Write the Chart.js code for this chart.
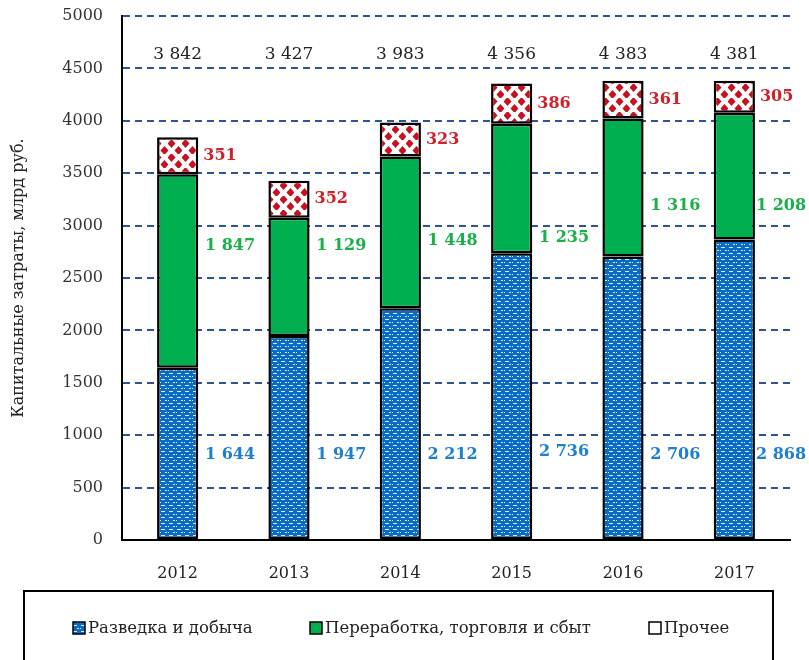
<!DOCTYPE html>
<html>
<head>
<meta charset="utf-8">
<script src="https://cdn.jsdelivr.net/npm/chart.js@4.4.1/dist/chart.umd.min.js"></script>
<style>
  body { margin: 0; background: #fff; }
  canvas { display: block; }
</style>
</head>
<body>
<canvas id="capexChart" width="809" height="660"></canvas>
<script>
// данные диаграммы
const years = ['2012', '2013', '2014', '2015', '2016', '2017'];
const exploration = [1644, 1947, 2212, 2736, 2706, 2868];
const processing = [1847, 1129, 1448, 1235, 1316, 1208];
const other = [351, 352, 323, 386, 361, 305];
const totals = [3842, 3427, 3983, 4356, 4383, 4381];
const seriesNames = ['Разведка и добыча', 'Переработка, торговля и сбыт', 'Прочее'];
const yTicks = [0, 500, 1000, 1500, 2000, 2500, 3000, 3500, 4000, 4500, 5000];

const SERIF = '"DejaVu Serif", "Liberation Serif", serif';

// штриховки столбцов
function bluePattern() {
  let c = document.createElement('canvas');
  c.width = 8; c.height = 6;
  let g = c.getContext('2d');
  g.fillStyle = '#0a6cc4';
  g.fillRect(0, 0, 8, 6);
  g.fillStyle = 'rgba(255,255,255,0.85)';
  g.fillRect(1, 1, 4, 1);
  g.fillRect(5, 4, 2, 1);
  g.fillRect(0, 4, 1, 1);
  return g.createPattern(c, 'repeat');
}
function redPattern() {
  let c = document.createElement('canvas');
  c.width = 14; c.height = 14;
  let g = c.getContext('2d');
  g.fillStyle = '#fff';
  g.fillRect(0, 0, 14, 14);
  g.fillStyle = '#c8101e';
  [[3.5, 3.5], [10.5, 10.5]].forEach(p => {
    g.beginPath();
    g.moveTo(p[0], p[1] - 4.5);
    g.lineTo(p[0] + 4, p[1]);
    g.lineTo(p[0], p[1] + 4.5);
    g.lineTo(p[0] - 4, p[1]);
    g.closePath();
    g.fill();
  });
  return g.createPattern(c, 'repeat');
}
const fills = [bluePattern(), '#00b050', redPattern()];
const legendFills = [fills[0], fills[1], '#fff'];

function fmt(n) {
  return String(n).replace(/\B(?=(\d{3})+(?!\d))/g, ' ');
}

// подписи значений
const valueLabels = {
  id: 'valueLabels',
  afterDatasetsDraw(chart) {
    let ctx = chart.ctx, ys = chart.scales.y, xs = chart.scales.x;
    let step = xs.getPixelForValue(1) - xs.getPixelForValue(0);
    let greenLevel = [2810, 2810, 2850, 2880, 3190, 3190];
    let blueLevel = [810, 810, 810, 840, 810, 810];
    let m0 = chart.getDatasetMeta(0);
    ctx.save();
    ctx.textBaseline = 'middle';
    years.forEach((yr, i) => {
      let bx = m0.data[i].x, half = m0.data[i].width / 2;
      let lx = Math.min(bx + step * 0.47, 781);

      ctx.font = '17px ' + SERIF;
      ctx.fillStyle = '#222';
      ctx.textAlign = 'center';
      ctx.fillText(fmt(totals[i]), bx, ys.getPixelForValue(4630));

      ctx.font = 'bold 16px ' + SERIF;
      ctx.textAlign = 'left';
      ctx.fillStyle = '#d0202a';
      let base = exploration[i] + processing[i];
      ctx.fillText(fmt(other[i]), bx + half + 5, ys.getPixelForValue(base + other[i] / 2));

      ctx.textAlign = 'center';
      ctx.fillStyle = '#19b04a';
      ctx.fillText(fmt(processing[i]), lx, ys.getPixelForValue(greenLevel[i]));

      ctx.fillStyle = '#1c7fd0';
      ctx.fillText(fmt(exploration[i]), lx, ys.getPixelForValue(blueLevel[i]));
    });
    ctx.restore();
  }
};

// легенда в рамке
const boxLegend = {
  id: 'boxLegend',
  afterDraw(chart) {
    let ctx = chart.ctx;
    ctx.save();
    ctx.strokeStyle = '#000';
    ctx.lineWidth = 2;
    ctx.strokeRect(24, 591, 749, 80);
    let xs = [73, 310, 649];
    ctx.font = '16.5px ' + SERIF;
    ctx.textBaseline = 'middle';
    ctx.textAlign = 'left';
    seriesNames.forEach((name, i) => {
      ctx.fillStyle = legendFills[i];
      ctx.fillRect(xs[i], 622, 12, 12);
      ctx.lineWidth = 1.5;
      ctx.strokeRect(xs[i], 622, 12, 12);
      ctx.fillStyle = '#222';
      ctx.fillText(name, xs[i] + 15, 629);
    });
    ctx.restore();
  }
};

let chartCanvas = document.getElementById('capexChart').getContext('2d');

let capexChart = new Chart(chartCanvas, {
  type: 'bar',
  data: {
    labels: years,
    datasets: [exploration, processing, other].map((vals, i) => ({
      label: seriesNames[i],
      data: vals,
      backgroundColor: fills[i],
      borderColor: '#000',
      borderWidth: 2.5,
      borderSkipped: false,
      barPercentage: 0.37,
      categoryPercentage: 1
    }))
  },
  options: {
    responsive: false,
    animation: false,
    layout: { padding: { left: 0, top: 16, right: 19, bottom: 0 } },
    plugins: {
      legend: { display: false },
      tooltip: { enabled: false }
    },
    scales: {
      x: {
        stacked: true,
        grid: { display: false },
        border: { color: '#000', width: 2 },
        ticks: { color: '#222', font: { family: SERIF, size: 16 }, padding: 16 },
        afterFit(scale) { scale.height = 120; }
      },
      y: {
        stacked: true,
        min: 0,
        max: 5000,
        afterBuildTicks(scale) { scale.ticks = yTicks.map(v => ({ value: v })); },
        grid: {
          color: c => c.tick && c.tick.value === 0 ? 'rgba(0,0,0,0)' : '#2f5496',
          lineWidth: 2,
          drawTicks: true,
          tickLength: 19,
          tickColor: 'rgba(0,0,0,0)'
        },
        border: { color: '#000', width: 2, dash: [7, 5] },
        ticks: {
          color: '#333',
          font: { family: SERIF, size: 16 },
          padding: 0,
          callback: v => String(v)
        },
        title: {
          display: true,
          text: 'Капитальные затраты, млрд руб.',
          color: '#222',
          font: { family: SERIF, size: 16 },
          padding: { top: 9, bottom: 0 }
        },
        afterFit(scale) { scale.width = 122; }
      }
    }
  },
  plugins: [valueLabels, boxLegend]
});
</script>
</body>
</html>
